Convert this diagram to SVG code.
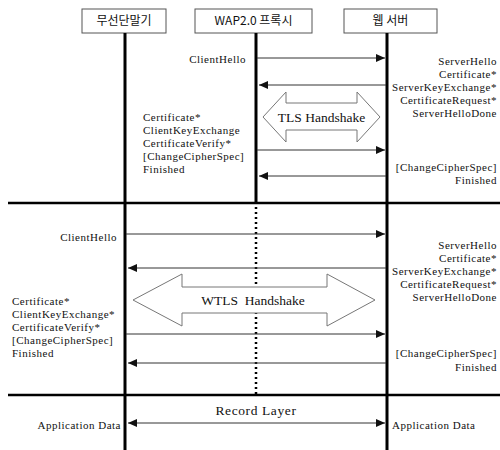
<svg xmlns="http://www.w3.org/2000/svg" width="500" height="450" viewBox="0 0 500 450">
<defs>
<style>
.hdr{fill:#fff;stroke:#555;stroke-width:1}
.ht{font-family:"Noto Sans CJK KR","Liberation Sans",sans-serif;font-size:12px;fill:#111;text-anchor:middle}
.lbl{font-family:"Liberation Serif",serif;font-size:11px;letter-spacing:0.5px;fill:#111}
.big{font-family:"Liberation Serif",serif;font-size:13.5px;fill:#111;text-anchor:middle}
.life{stroke:#000;stroke-width:3}
.div{stroke:#000;stroke-width:2.5}
.msg{stroke:#333;stroke-width:1;fill:none}
.ha{fill:#fff;stroke:#777;stroke-width:1}
.r{text-anchor:end}
</style>
<marker id="ah" markerUnits="userSpaceOnUse" markerWidth="10" markerHeight="8" refX="9" refY="4" orient="auto">
<path d="M0,0 L9,4 L0,8 z" fill="#111"/>
</marker>
<marker id="as" markerUnits="userSpaceOnUse" markerWidth="10" markerHeight="8" refX="1" refY="4" orient="auto">
<path d="M10,0 L1,4 L10,8 z" fill="#111"/>
</marker>
</defs>
<rect width="500" height="450" fill="#fff"/>

<g id="dividers">
<line class="div" x1="8" y1="203" x2="500" y2="203"/>
<line class="div" x1="8" y1="395" x2="500" y2="395"/>
</g>

<g id="terminal">
<rect class="hdr" x="82" y="9" width="84" height="24"/>
<text class="ht" x="124" y="25">무선단말기</text>
<line class="life" x1="125" y1="33" x2="125" y2="450"/>
</g>
<g id="proxy">
<rect class="hdr" x="195" y="9" width="117" height="24"/>
<text class="ht" x="253.5" y="25">WAP2.0  프록시</text>
<line class="life" x1="256" y1="33" x2="256" y2="203"/>
<line x1="256" y1="207" x2="256" y2="394" stroke="#000" stroke-width="2.5" stroke-dasharray="2,3"/>
</g>
<g id="server">
<rect class="hdr" x="344" y="9" width="93" height="24"/>
<text class="ht" x="390.5" y="25">웹 서버</text>
<line class="life" x1="387" y1="33" x2="387" y2="450"/>
</g>

<g id="tls-handshake">
<polygon class="ha" points="263,117 286,92 286,103 357,103 357,92 380,117 357,142 357,130 286,130 286,142"/>
<text class="big" x="321.5" y="122">TLS Handshake</text>
</g>
<g id="wtls-handshake">
<polygon class="ha" points="133,300 182,274 182,287 327,287 327,274 375,300 327,326 327,313 182,313 182,326"/>
<text class="big" x="253" y="305" xml:space="preserve">WTLS  Handshake</text>
</g>

<g id="connectors">
<line class="msg" x1="257" y1="58" x2="385" y2="58" marker-end="url(#ah)"/>
<line class="msg" x1="386" y1="85" x2="259" y2="85" marker-end="url(#ah)"/>
<line class="msg" x1="257" y1="150" x2="385" y2="150" marker-end="url(#ah)"/>
<line class="msg" x1="386" y1="176" x2="259" y2="176" marker-end="url(#ah)"/>
<line class="msg" x1="126" y1="234" x2="385" y2="234" marker-end="url(#ah)"/>
<line class="msg" x1="386" y1="268" x2="128" y2="268" marker-end="url(#ah)"/>
<line class="msg" x1="126" y1="334" x2="385" y2="334" marker-end="url(#ah)"/>
<line class="msg" x1="386" y1="363" x2="128" y2="363" marker-end="url(#ah)"/>
<line class="msg" x1="128" y1="423" x2="385" y2="423" marker-start="url(#as)" marker-end="url(#ah)"/>
</g>

<g id="labels-tls">
<text class="lbl r" x="246" y="63">ClientHello</text>
<text class="lbl r" x="497" y="65">ServerHello</text>
<text class="lbl r" x="497" y="78">Certificate*</text>
<text class="lbl r" x="497" y="91">ServerKeyExchange*</text>
<text class="lbl r" x="497" y="104">CertificateRequest*</text>
<text class="lbl r" x="497" y="117">ServerHelloDone</text>
<text class="lbl" x="143" y="121">Certificate*</text>
<text class="lbl" x="143" y="134">ClientKeyExchange</text>
<text class="lbl" x="143" y="147">CertificateVerify*</text>
<text class="lbl" x="143" y="160">[ChangeCipherSpec]</text>
<text class="lbl" x="143" y="173">Finished</text>
<text class="lbl r" x="497" y="171">[ChangeCipherSpec]</text>
<text class="lbl r" x="497" y="184">Finished</text>
</g>

<g id="labels-wtls">
<text class="lbl r" x="117" y="241">ClientHello</text>
<text class="lbl r" x="497" y="249">ServerHello</text>
<text class="lbl r" x="497" y="262">Certificate*</text>
<text class="lbl r" x="497" y="275">ServerKeyExchange*</text>
<text class="lbl r" x="497" y="288">CertificateRequest*</text>
<text class="lbl r" x="497" y="301">ServerHelloDone</text>
<text class="lbl" x="12" y="305">Certificate*</text>
<text class="lbl" x="12" y="318">ClientKeyExchange*</text>
<text class="lbl" x="12" y="331">CertificateVerify*</text>
<text class="lbl" x="12" y="344">[ChangeCipherSpec]</text>
<text class="lbl" x="12" y="357">Finished</text>
<text class="lbl r" x="497" y="357">[ChangeCipherSpec]</text>
<text class="lbl r" x="497" y="371">Finished</text>
</g>

<g id="labels-record">
<text class="big" x="256" y="415" style="letter-spacing:0.6px">Record Layer</text>
<text class="lbl r" x="121" y="429">Application Data</text>
<text class="lbl" x="392" y="429">Application Data</text>
</g>
</svg>
